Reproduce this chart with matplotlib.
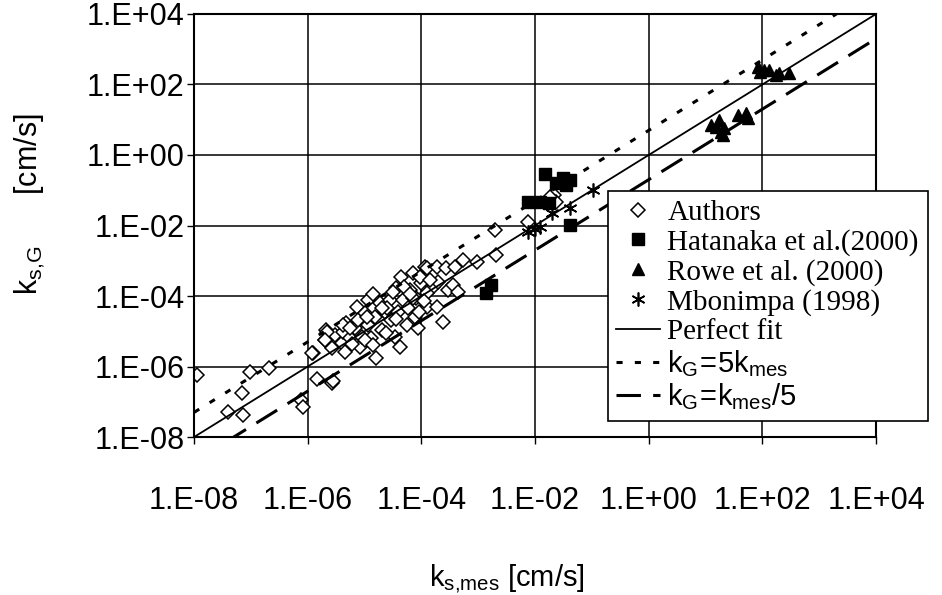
# k_s,G vs k_s,mes comparison, log-log scatter

import numpy as np
import matplotlib
matplotlib.use('Agg')
from matplotlib import pyplot as plt
from matplotlib.ticker import FixedLocator, FixedFormatter, NullLocator

plt.rcParams['mathtext.fontset'] = 'custom'
plt.rcParams['mathtext.rm'] = 'Liberation Sans'
plt.rcParams['mathtext.it'] = 'Liberation Sans:italic'

# values stored as log10(k)
authors_log_mes = [-7.95, -7.40, -7.13, -7.16, -7.02, -6.69, -6.11, -6.08, -5.90, -5.84, -5.58, -5.55,
                   -5.93, -5.70, -5.67, -5.58, -5.52, -5.40, -5.38, -5.35, -5.32, -5.26, -5.17, -5.14,
                   -5.11, -5.08, -5.05, -4.99, -4.94, -4.94, -4.88, -4.82, -4.79, -4.73, -4.70, -4.64,
                   -4.56, -4.53, -4.47, -4.44, -4.41, -4.38, -4.35, -4.32, -4.26, -4.23, -4.20, -4.15,
                   -4.12, -4.09, -4.06, -4.00, -3.94, -3.91,
                   -4.03, -3.91, -3.79, -3.73, -3.71, -3.56, -3.53, -3.41, -3.44, -3.35, -3.27, -3.62,
                   -3.73, -3.91, -3.03, -2.68, -2.71, -2.12, -1.66, -1.63, -1.74,
                   -5.66, -5.70, -5.38, -5.26, -4.96, -4.85, -4.60, -4.50, -4.30, -4.15, -4.05, -3.95,
                   -3.85, -4.45, -4.70, -5.00, -4.85, -5.22, -4.62, -4.20]
authors_log_g = [-6.24, -7.28, -7.38, -6.76, -6.15, -6.05, -6.95, -7.14, -5.63, -6.34, -6.48, -6.40,
                 -5.62, -5.25, -4.96, -5.48, -5.11, -5.33, -5.02, -5.59, -4.77, -5.19, -4.91, -4.31,
                 -4.68, -5.45, -5.16, -4.48, -4.11, -4.82, -5.19, -4.60, -5.76, -4.20, -4.96, -4.45,
                 -4.11, -4.68, -5.16, -3.77, -4.45, -5.45, -3.46, -4.11, -4.82, -4.34, -3.83, -3.35,
                 -4.60, -4.06, -4.91, -3.63, -3.18, -4.31,
                 -3.46, -3.21, -3.74, -3.18, -3.60, -3.21, -3.83, -3.18, -3.69, -3.88, -2.98, -4.74,
                 -4.31, -3.92, -3.04, -2.84, -2.13, -1.90, -1.13, -1.33, -1.18,
                 -5.02, -5.25, -4.82, -4.91, -4.60, -3.95, -4.35, -3.90, -3.75, -4.05, -4.45, -4.15,
                 -3.55, -4.65, -4.35, -5.25, -5.40, -5.35, -5.05, -3.95]

hatanaka_log_mes = [-2.86, -2.77, -2.13, -1.92, -1.83, -1.63, -1.51, -1.39, -1.45, -1.39, -1.75]
hatanaka_log_g = [-3.92, -3.69, -1.33, -1.33, -0.55, -0.80, -0.66, -0.71, -0.85, -1.99, -1.35]

rowe_log_mes = [1.92, 1.95, 2.03, 2.12, 2.24, 2.30, 2.47,
                1.10, 1.18, 1.24, 1.27, 1.30, 1.33, 1.57, 1.71, 1.74]
rowe_log_g = [2.50, 2.36, 2.41, 2.41, 2.27, 2.33, 2.33,
              0.85, 0.80, 0.99, 0.66, 0.57, 0.76, 1.13, 1.19, 1.05]

mbonimpa_log_mes = [-2.12, -1.92, -1.71, -1.39, -0.98, -2.00]
mbonimpa_log_g = [-2.18, -2.04, -1.65, -1.50, -0.99, -2.10]

tick_exponents = [-8, -6, -4, -2, 0, 2, 4]
tick_labels = ['1.E-08', '1.E-06', '1.E-04', '1.E-02', '1.E+00', '1.E+02', '1.E+04']

line_k = [1e-8, 1e4]


def _pow(vals):
    return np.power(10.0, np.array(vals))


fig = plt.figure(figsize=(9.42, 5.95), dpi=100)
ax = fig.add_axes([0.206, 0.2655, 0.724, 0.711])
ax.set_xscale('log')
ax.set_yscale('log')
ax.set_xlim(1e-8, 1e4)
ax.set_ylim(1e-8, 1e4)

ax.plot(_pow(authors_log_mes), _pow(authors_log_g), linestyle='none', marker='D', ms=7,
        mfc='white', mec='black', mew=1.1, label='Authors')
ax.plot(_pow(hatanaka_log_mes), _pow(hatanaka_log_g), linestyle='none', marker='s', ms=8.5,
        color='black', label='Hatanaka et al.(2000)')
ax.plot(_pow(rowe_log_mes), _pow(rowe_log_g), linestyle='none', marker='^', ms=8.5,
        color='black', label='Rowe et al. (2000)')
ax.plot(_pow(mbonimpa_log_mes), _pow(mbonimpa_log_g), linestyle='none', marker=(6, 2, 0), ms=10,
        color='black', mew=1.2, label='Mbonimpa (1998)')

kl = np.array(line_k)
ax.plot(kl, kl, color='black', lw=1.3, label='Perfect fit')
ax.plot(kl, 5 * kl, color='black', lw=2.2, dashes=(2, 4), label=r'$\mathrm{k_G\!=\!5k_{mes}}$')
ax.plot(kl, kl / 5, color='black', lw=2.2, dashes=(8, 4), label=r'$\mathrm{k_G\!=\!k_{mes}/5}$')

ticks = [10.0 ** e for e in tick_exponents]
for axis in (ax.xaxis, ax.yaxis):
    axis.set_major_locator(FixedLocator(ticks))
    axis.set_major_formatter(FixedFormatter(tick_labels))
    axis.set_minor_locator(NullLocator())
ax.grid(True, color='black', lw=1.1)
ax.set_axisbelow(True)
for sp in ax.spines.values():
    sp.set_linewidth(1.5)
ax.tick_params(axis='both', direction='out', length=5, width=1, labelsize=22)
ax.tick_params(axis='x', pad=30)
ax.tick_params(axis='y', pad=2)
for lab in ax.get_xticklabels() + ax.get_yticklabels():
    lab.set_family('Liberation Sans')

ax.set_xlabel(r'$\mathrm{k_{s{,}mes}}$ [cm/s]', fontsize=21, family='Liberation Sans')
ax.set_ylabel(r'$\mathrm{k_{s{,}G}}$      [cm/s]', fontsize=22, family='Liberation Sans')
ax.xaxis.set_label_coords(0.459, -0.295)
ax.yaxis.set_label_coords(-0.215, 0.55)

leg = ax.legend(loc='upper left', bbox_to_anchor=(0.645, 0.679), bbox_transform=fig.transFigure,
                prop={'family': 'Liberation Serif', 'size': 21}, frameon=True, fancybox=False,
                framealpha=1, edgecolor='black', borderaxespad=0, borderpad=0.3,
                handlelength=1.5, handletextpad=0.25, labelspacing=0.1)
leg.get_frame().set_linewidth(1.2)

fig.savefig('out.png', dpi=100)
